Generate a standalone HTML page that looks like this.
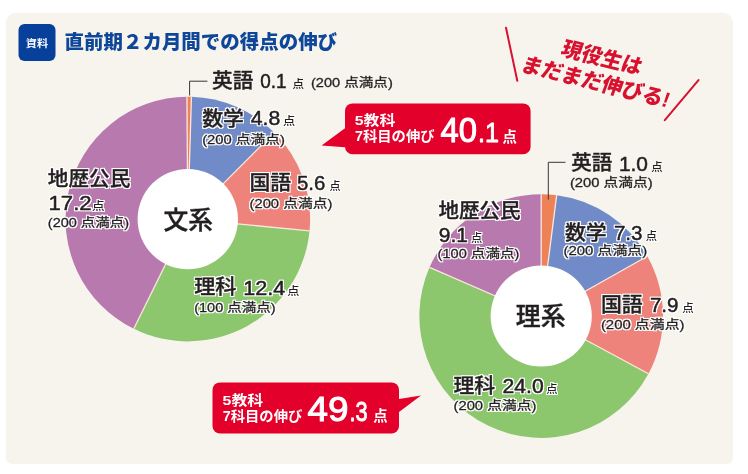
<!DOCTYPE html>
<html lang="ja"><head><meta charset="utf-8"><title>直前期２カ月間での得点の伸び</title>
<style>html,body{margin:0;padding:0;background:#fff}body{width:748px;height:474px;overflow:hidden}svg{display:block}</style>
</head><body>
<svg width="748" height="474" viewBox="0 0 748 474" font-family='"Liberation Sans", "Noto Sans CJK JP", sans-serif'>
<defs><filter id="halo" color-interpolation-filters="sRGB" x="-10%" y="-30%" width="120%" height="160%"><feMorphology in="SourceAlpha" operator="dilate" radius="1" result="d"/><feGaussianBlur in="d" stdDeviation="0.35" result="b"/><feFlood flood-color="#fff" flood-opacity="0.95"/><feComposite in2="b" operator="in" result="h"/><feMerge><feMergeNode in="h"/><feMergeNode in="h"/><feMergeNode in="SourceGraphic"/></feMerge></filter></defs>
<rect width="748" height="474" fill="#fff"/>
<path d="M16 12.8H723A10 10 0 0 1 733 22.8V458A6 6 0 0 1 727 464H12A6 6 0 0 1 6 458V22.8A10 10 0 0 1 16 12.8Z" fill="#f6f4ed"/>
<rect x="18.5" y="24" width="37" height="37" rx="6" fill="#07409a"/>
<text x="25.8" y="47.0" font-size="10" font-weight="700" fill="#fff" textLength="22.4" lengthAdjust="spacingAndGlyphs" >資料</text>
<text x="64.6" y="49.3" font-size="19.5" font-weight="900" fill="#0e469a" textLength="272.5" lengthAdjust="spacingAndGlyphs" >直前期２カ月間での得点の伸び</text>
<path d="M187.80 219.10L186.95 96.80A122.3 122.3 0 0 1 191.43 96.85Z" fill="#ee8257"/>
<path d="M187.80 219.10L191.43 96.85A122.3 122.3 0 0 1 274.28 132.62Z" fill="#708bc8"/>
<path d="M187.80 219.10L274.28 132.62A122.3 122.3 0 0 1 309.54 230.82Z" fill="#ee837b"/>
<path d="M187.80 219.10L309.54 230.82A122.3 122.3 0 0 1 133.80 328.83Z" fill="#8cc66d"/>
<path d="M187.80 219.10L133.80 328.83A122.3 122.3 0 0 1 186.95 96.80Z" fill="#b87aae"/>
<line x1="187.80" y1="219.10" x2="186.95" y2="96.80" stroke="#fbe6dc" stroke-width="1.3"/>
<line x1="187.80" y1="219.10" x2="191.43" y2="96.85" stroke="#fbe6dc" stroke-width="1.3"/>
<line x1="187.80" y1="219.10" x2="274.28" y2="132.62" stroke="#fbe6dc" stroke-width="1.3"/>
<line x1="187.80" y1="219.10" x2="309.54" y2="230.82" stroke="#fbe6dc" stroke-width="1.3"/>
<line x1="187.80" y1="219.10" x2="133.80" y2="328.83" stroke="#fbe6dc" stroke-width="1.3"/>
<circle cx="187.8" cy="219.1" r="50.2" fill="#fff"/>
<path d="M541.20 316.00L541.20 194.20A121.8 121.8 0 0 1 556.68 195.19Z" fill="#ee8257"/>
<path d="M541.20 316.00L556.68 195.19A121.8 121.8 0 0 1 647.32 256.22Z" fill="#708bc8"/>
<path d="M541.20 316.00L647.32 256.22A121.8 121.8 0 0 1 648.45 373.74Z" fill="#ee837b"/>
<path d="M541.20 316.00L648.45 373.74A121.8 121.8 0 0 1 429.54 267.34Z" fill="#8cc66d"/>
<path d="M541.20 316.00L429.54 267.34A121.8 121.8 0 0 1 541.20 194.20Z" fill="#b87aae"/>
<line x1="541.20" y1="316.00" x2="541.20" y2="194.20" stroke="#fbe6dc" stroke-width="1.3"/>
<line x1="541.20" y1="316.00" x2="556.68" y2="195.19" stroke="#fbe6dc" stroke-width="1.3"/>
<line x1="541.20" y1="316.00" x2="647.32" y2="256.22" stroke="#fbe6dc" stroke-width="1.3"/>
<line x1="541.20" y1="316.00" x2="648.45" y2="373.74" stroke="#fbe6dc" stroke-width="1.3"/>
<line x1="541.20" y1="316.00" x2="429.54" y2="267.34" stroke="#fbe6dc" stroke-width="1.3"/>
<circle cx="541.2" cy="316.0" r="50.6" fill="#fff"/>
<path d="M207.4 81.2H189.6V95.5" fill="none" stroke="#3a3536" stroke-width="1"/>
<path d="M565.5 162.3H548.3V199.6" fill="none" stroke="#3a3536" stroke-width="1"/>
<text x="163.6" y="228.8" font-size="24.5" font-weight="500" fill="#231f20" textLength="49.5" lengthAdjust="spacingAndGlyphs" stroke="#231f20" stroke-width="0.4" stroke-linejoin="round" >文系</text>
<text x="515.8" y="325.4" font-size="24.5" font-weight="500" fill="#231f20" textLength="49.8" lengthAdjust="spacingAndGlyphs" stroke="#231f20" stroke-width="0.4" stroke-linejoin="round" >理系</text>
<text x="212.1" y="88.0" font-size="20" font-weight="500" fill="#231f20" textLength="41.3" lengthAdjust="spacingAndGlyphs" stroke="#231f20" stroke-width="0.35" stroke-linejoin="round" >英語</text>
<text x="260.2" y="87.8" font-size="20.5" font-weight="400" fill="#231f20" textLength="26.3" lengthAdjust="spacingAndGlyphs" stroke="#231f20" stroke-width="0.5" stroke-linejoin="round" >0.1</text>
<text x="292.4" y="87.8" font-size="11.5" font-weight="500" fill="#231f20" textLength="11.5" lengthAdjust="spacingAndGlyphs" >点</text>
<text x="311.0" y="87.0" font-size="12.5" font-weight="400" fill="#231f20" textLength="81.8" lengthAdjust="spacingAndGlyphs" stroke="#231f20" stroke-width="0.3" stroke-linejoin="round" >(200 点満点)</text>
<text x="202.2" y="126.0" font-size="20" font-weight="500" fill="#231f20" textLength="41.7" lengthAdjust="spacingAndGlyphs" filter="url(#halo)" stroke="#231f20" stroke-width="0.35" stroke-linejoin="round" >数学</text>
<text x="250.7" y="125.4" font-size="20.5" font-weight="400" fill="#231f20" textLength="29.5" lengthAdjust="spacingAndGlyphs" filter="url(#halo)" stroke="#231f20" stroke-width="0.5" stroke-linejoin="round" >4.8</text>
<text x="283.1" y="125.4" font-size="11.5" font-weight="500" fill="#231f20" textLength="12.2" lengthAdjust="spacingAndGlyphs" filter="url(#halo)" >点</text>
<text x="202.2" y="143.6" font-size="12.5" font-weight="400" fill="#231f20" textLength="82.8" lengthAdjust="spacingAndGlyphs" filter="url(#halo)" stroke="#231f20" stroke-width="0.3" stroke-linejoin="round" >(200 点満点)</text>
<text x="249.5" y="190.0" font-size="20" font-weight="500" fill="#231f20" textLength="41.7" lengthAdjust="spacingAndGlyphs" filter="url(#halo)" stroke="#231f20" stroke-width="0.35" stroke-linejoin="round" >国語</text>
<text x="297.0" y="189.5" font-size="20.5" font-weight="400" fill="#231f20" textLength="28.4" lengthAdjust="spacingAndGlyphs" filter="url(#halo)" stroke="#231f20" stroke-width="0.5" stroke-linejoin="round" >5.6</text>
<text x="329.4" y="189.5" font-size="11.5" font-weight="500" fill="#231f20" textLength="11.1" lengthAdjust="spacingAndGlyphs" filter="url(#halo)" >点</text>
<text x="249.5" y="207.7" font-size="12.5" font-weight="400" fill="#231f20" textLength="82.9" lengthAdjust="spacingAndGlyphs" filter="url(#halo)" stroke="#231f20" stroke-width="0.3" stroke-linejoin="round" >(200 点満点)</text>
<text x="194.2" y="294.2" font-size="20" font-weight="500" fill="#231f20" textLength="42.3" lengthAdjust="spacingAndGlyphs" filter="url(#halo)" stroke="#231f20" stroke-width="0.35" stroke-linejoin="round" >理科</text>
<text x="243.3" y="294.6" font-size="20.5" font-weight="400" fill="#231f20" textLength="42.1" lengthAdjust="spacingAndGlyphs" filter="url(#halo)" stroke="#231f20" stroke-width="0.5" stroke-linejoin="round" >12.4</text>
<text x="287.3" y="294.6" font-size="11.5" font-weight="500" fill="#231f20" textLength="12.2" lengthAdjust="spacingAndGlyphs" filter="url(#halo)" >点</text>
<text x="194.2" y="312.0" font-size="12.5" font-weight="400" fill="#231f20" textLength="81.4" lengthAdjust="spacingAndGlyphs" filter="url(#halo)" stroke="#231f20" stroke-width="0.3" stroke-linejoin="round" >(100 点満点)</text>
<text x="47.8" y="186.2" font-size="20" font-weight="500" fill="#231f20" textLength="82.5" lengthAdjust="spacingAndGlyphs" filter="url(#halo)" stroke="#231f20" stroke-width="0.35" stroke-linejoin="round" >地歴公民</text>
<text x="48.5" y="210.2" font-size="20.5" font-weight="400" fill="#231f20" textLength="43.1" lengthAdjust="spacingAndGlyphs" filter="url(#halo)" stroke="#231f20" stroke-width="0.5" stroke-linejoin="round" >17.2</text>
<text x="92.0" y="210.2" font-size="11.5" font-weight="500" fill="#231f20" textLength="12.6" lengthAdjust="spacingAndGlyphs" filter="url(#halo)" >点</text>
<text x="47.8" y="227.2" font-size="12.5" font-weight="400" fill="#231f20" textLength="81.4" lengthAdjust="spacingAndGlyphs" filter="url(#halo)" stroke="#231f20" stroke-width="0.3" stroke-linejoin="round" >(200 点満点)</text>
<text x="571.2" y="170.2" font-size="20" font-weight="500" fill="#231f20" textLength="41.0" lengthAdjust="spacingAndGlyphs" stroke="#231f20" stroke-width="0.35" stroke-linejoin="round" >英語</text>
<text x="618.9" y="170.9" font-size="20.5" font-weight="400" fill="#231f20" textLength="29.1" lengthAdjust="spacingAndGlyphs" stroke="#231f20" stroke-width="0.5" stroke-linejoin="round" >1.0</text>
<text x="651.3" y="170.9" font-size="11.5" font-weight="500" fill="#231f20" textLength="11.3" lengthAdjust="spacingAndGlyphs" >点</text>
<text x="569.9" y="187.0" font-size="12.5" font-weight="400" fill="#231f20" textLength="82.8" lengthAdjust="spacingAndGlyphs" stroke="#231f20" stroke-width="0.3" stroke-linejoin="round" >(200 点満点)</text>
<text x="564.9" y="239.6" font-size="20" font-weight="500" fill="#231f20" textLength="41.7" lengthAdjust="spacingAndGlyphs" filter="url(#halo)" stroke="#231f20" stroke-width="0.35" stroke-linejoin="round" >数学</text>
<text x="613.9" y="240.0" font-size="20.5" font-weight="400" fill="#231f20" textLength="28.6" lengthAdjust="spacingAndGlyphs" filter="url(#halo)" stroke="#231f20" stroke-width="0.5" stroke-linejoin="round" >7.3</text>
<text x="645.7" y="240.0" font-size="11.5" font-weight="500" fill="#231f20" textLength="11.3" lengthAdjust="spacingAndGlyphs" filter="url(#halo)" >点</text>
<text x="563.6" y="255.4" font-size="12.5" font-weight="400" fill="#231f20" textLength="83.5" lengthAdjust="spacingAndGlyphs" filter="url(#halo)" stroke="#231f20" stroke-width="0.3" stroke-linejoin="round" >(200 点満点)</text>
<text x="600.9" y="312.0" font-size="20" font-weight="500" fill="#231f20" textLength="41.8" lengthAdjust="spacingAndGlyphs" filter="url(#halo)" stroke="#231f20" stroke-width="0.35" stroke-linejoin="round" >国語</text>
<text x="649.9" y="311.9" font-size="20.5" font-weight="400" fill="#231f20" textLength="28.6" lengthAdjust="spacingAndGlyphs" filter="url(#halo)" stroke="#231f20" stroke-width="0.5" stroke-linejoin="round" >7.9</text>
<text x="682.3" y="311.9" font-size="11.5" font-weight="500" fill="#231f20" textLength="11.5" lengthAdjust="spacingAndGlyphs" filter="url(#halo)" >点</text>
<text x="600.9" y="329.0" font-size="12.5" font-weight="400" fill="#231f20" textLength="83.6" lengthAdjust="spacingAndGlyphs" filter="url(#halo)" stroke="#231f20" stroke-width="0.3" stroke-linejoin="round" >(200 点満点)</text>
<text x="453.5" y="392.8" font-size="20" font-weight="500" fill="#231f20" textLength="41.7" lengthAdjust="spacingAndGlyphs" filter="url(#halo)" stroke="#231f20" stroke-width="0.35" stroke-linejoin="round" >理科</text>
<text x="502.5" y="393.2" font-size="20.5" font-weight="400" fill="#231f20" textLength="41.2" lengthAdjust="spacingAndGlyphs" filter="url(#halo)" stroke="#231f20" stroke-width="0.5" stroke-linejoin="round" >24.0</text>
<text x="546.2" y="393.2" font-size="11.5" font-weight="500" fill="#231f20" textLength="11.3" lengthAdjust="spacingAndGlyphs" filter="url(#halo)" >点</text>
<text x="453.5" y="409.8" font-size="12.5" font-weight="400" fill="#231f20" textLength="83.0" lengthAdjust="spacingAndGlyphs" filter="url(#halo)" stroke="#231f20" stroke-width="0.3" stroke-linejoin="round" >(200 点満点)</text>
<text x="438.4" y="218.4" font-size="20" font-weight="500" fill="#231f20" textLength="82.3" lengthAdjust="spacingAndGlyphs" filter="url(#halo)" stroke="#231f20" stroke-width="0.35" stroke-linejoin="round" >地歴公民</text>
<text x="438.8" y="242.1" font-size="20.5" font-weight="400" fill="#231f20" textLength="29.1" lengthAdjust="spacingAndGlyphs" filter="url(#halo)" stroke="#231f20" stroke-width="0.5" stroke-linejoin="round" >9.1</text>
<text x="471.1" y="242.1" font-size="11.5" font-weight="500" fill="#231f20" textLength="11.3" lengthAdjust="spacingAndGlyphs" filter="url(#halo)" >点</text>
<text x="437.6" y="258.2" font-size="12.5" font-weight="400" fill="#231f20" textLength="81.8" lengthAdjust="spacingAndGlyphs" filter="url(#halo)" stroke="#231f20" stroke-width="0.3" stroke-linejoin="round" >(100 点満点)</text>
<rect x="345" y="103.4" width="185.60000000000002" height="50.900000000000006" rx="7.5" fill="#e3002b"/>
<path d="M347 126.8L321.6 145.5L348 147.6Z" fill="#e3002b"/>
<text x="354.8" y="125.4" font-size="13.5" font-weight="700" fill="#fff" textLength="40.5" lengthAdjust="spacingAndGlyphs" >5教科</text>
<text x="355.0" y="141.4" font-size="14" font-weight="700" fill="#fff" textLength="79.5" lengthAdjust="spacingAndGlyphs" >7科目の伸び</text>
<text x="440.6" y="142.2" font-size="35" font-weight="400" fill="#fff" textLength="36.5" lengthAdjust="spacingAndGlyphs" stroke="#fff" stroke-width="1.0" stroke-linejoin="round" >40</text>
<text x="478.0" y="142.2" font-size="28" font-weight="400" fill="#fff" textLength="21.0" lengthAdjust="spacingAndGlyphs" stroke="#fff" stroke-width="0.9" stroke-linejoin="round" >.1</text>
<text x="502.6" y="141.6" font-size="14.5" font-weight="700" fill="#fff" textLength="14.4" lengthAdjust="spacingAndGlyphs" >点</text>
<rect x="212.5" y="382.4" width="186.5" height="51.10000000000002" rx="7.5" fill="#e3002b"/>
<path d="M396 399.4L421 395.4L396 414.2Z" fill="#e3002b"/>
<text x="222.6" y="404.8" font-size="13.5" font-weight="700" fill="#fff" textLength="40.5" lengthAdjust="spacingAndGlyphs" >5教科</text>
<text x="222.8" y="421.2" font-size="14" font-weight="700" fill="#fff" textLength="79.5" lengthAdjust="spacingAndGlyphs" >7科目の伸び</text>
<text x="307.6" y="420.8" font-size="35" font-weight="400" fill="#fff" textLength="41.0" lengthAdjust="spacingAndGlyphs" stroke="#fff" stroke-width="1.0" stroke-linejoin="round" >49</text>
<text x="349.4" y="420.8" font-size="28" font-weight="400" fill="#fff" textLength="18.2" lengthAdjust="spacingAndGlyphs" stroke="#fff" stroke-width="0.9" stroke-linejoin="round" >.3</text>
<text x="373.2" y="420.6" font-size="14.5" font-weight="700" fill="#fff" textLength="14.4" lengthAdjust="spacingAndGlyphs" >点</text>
<g transform="translate(597,70) rotate(14) skewX(-6)" fill="#d8112f" font-weight="900" font-size="21" text-anchor="middle">
<text x="0.5" y="-5.8" textLength="82" lengthAdjust="spacingAndGlyphs">現役生は</text>
<text x="3" y="19.3" textLength="152" lengthAdjust="spacingAndGlyphs">まだまだ伸びる!</text>
</g>
<path d="M506 27.8L517.3 80.8M698.5 80.1L664.8 120.2" stroke="#d8112f" stroke-width="2" fill="none" stroke-linecap="round"/>
</svg>
</body></html>
